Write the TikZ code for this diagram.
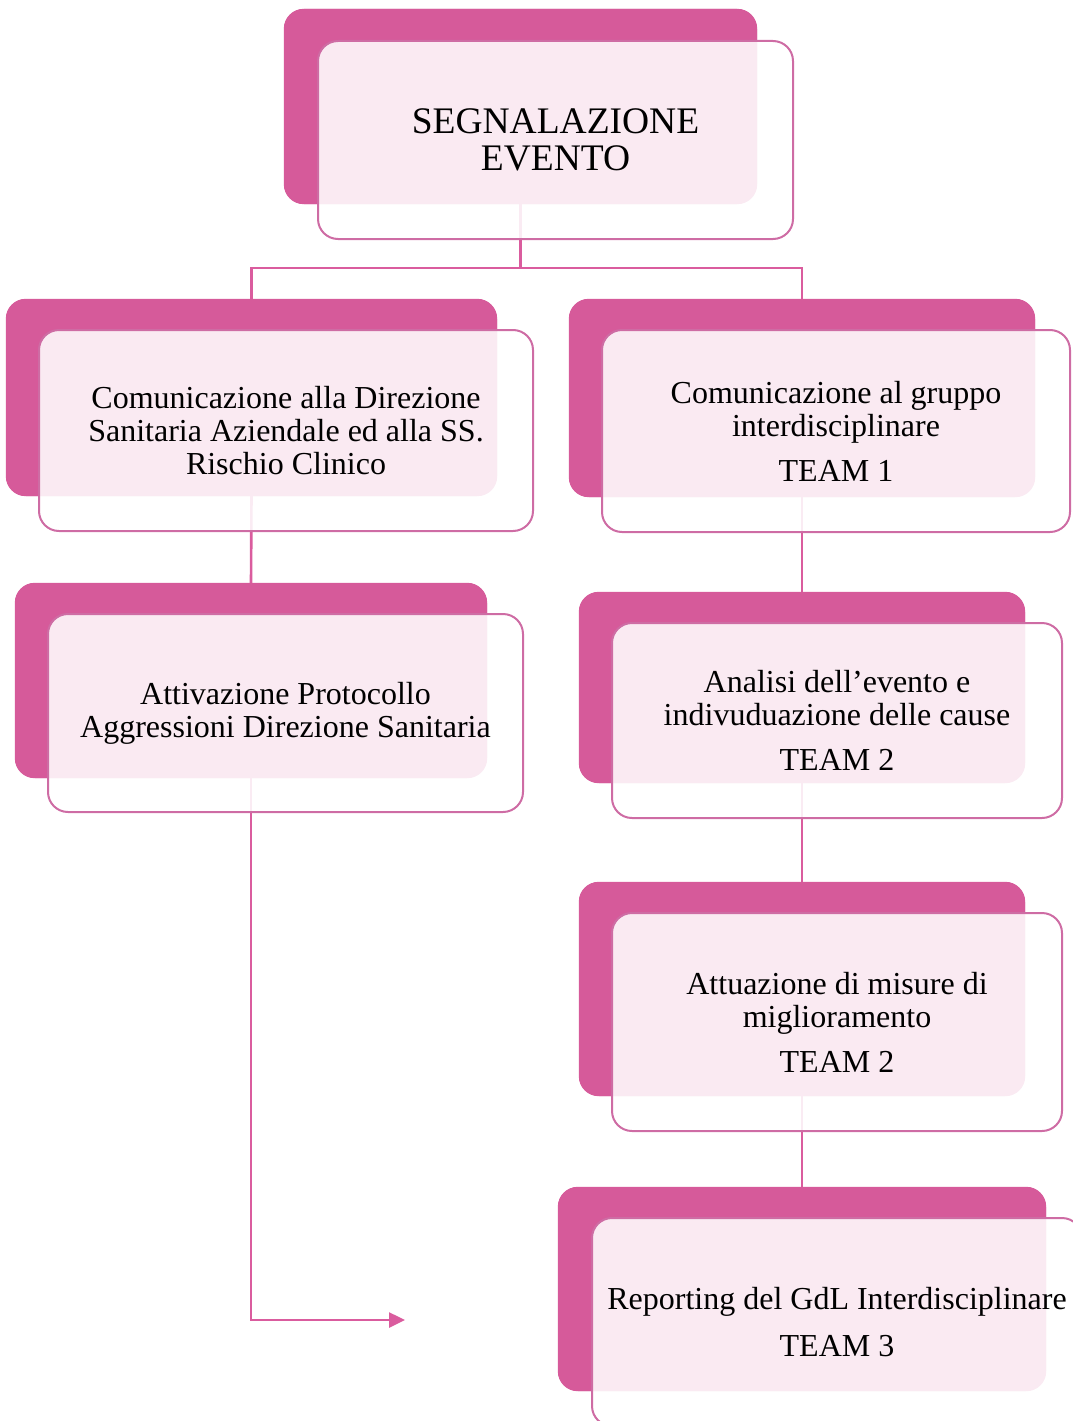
\documentclass[tikz,border=0pt]{standalone}
\usepackage{fontspec}
\setmainfont{Liberation Serif}
\usetikzlibrary{arrows.meta}
\definecolor{darkpk}{RGB}{214,90,154}
\definecolor{borderpk}{RGB}{206,108,164}
\definecolor{linepk}{RGB}{218,92,158}
\begin{document}
\begin{tikzpicture}[x=1pt,y=-1pt,
  back/.style={draw=none,fill=darkpk,rounded corners=20pt,inner sep=0pt},
  front/.style={draw=borderpk,line width=2pt,fill=white,fill opacity=0.88,text opacity=1,
    rounded corners=20pt,inner sep=0pt,align=center,font=\fontsize{32}{33}\selectfont},
  conn/.style={draw=linepk,line width=2.6pt}]
\useasboundingbox (0,0) rectangle (1072,1421);
% junction coordinates
\coordinate (j) at (520.5,268);
\coordinate (end) at (405,1320);
% back boxes
\node[back,minimum width=473pt,minimum height=195pt] (b0) at (520.5,106.5) {};
\node[back,minimum width=491pt,minimum height=197pt] (bl1) at (251.5,397.5) {};
\node[back,minimum width=466pt,minimum height=198pt] (br1) at (802,398) {};
\node[back,minimum width=472pt,minimum height=195pt] (bl2) at (251,680.5) {};
\node[back,minimum width=446pt,minimum height=191pt] (br2) at (802,687.5) {};
\node[back,minimum width=446pt,minimum height=214pt] (br3) at (802,989) {};
\node[back,minimum width=488pt,minimum height=204pt] (br4) at (802,1289) {};
% connectors
\draw[conn] (b0.south) -- (j) -| (bl1.north);
\draw[conn] (j) -| (br1.north);
\draw[conn] (bl1.south) -- (bl2.north);
\draw[conn,-{Triangle[length=16pt,width=15pt]}] (bl2.south) |- (end);
\draw[conn] (br1.south) -- (br2.north);
\draw[conn] (br2.south) -- (br3.north);
\draw[conn] (br3.south) -- (br4.north);
% redraw back boxes over connectors
\foreach \n in {b0,bl1,br1,bl2,br2,br3,br4}{
  \fill[darkpk,rounded corners=20pt] (\n.north west) rectangle (\n.south east);
}
% front boxes
\node[front,minimum width=475pt,minimum height=198pt,font=\fontsize{37.5}{37}\selectfont] (f0) at (555.5,140)
  {SEGNALAZIONE\\EVENTO};
\node[front,minimum width=494pt,minimum height=201pt] (fl1) at (286,430.5)
  {Comunicazione alla Direzione\\Sanitaria Aziendale ed alla SS.\\Rischio Clinico};
\node[front,minimum width=468pt,minimum height=202pt] (fr1) at (836,431)
  {Comunicazione al gruppo\\interdisciplinare\\[12pt]TEAM 1};
\node[front,minimum width=475pt,minimum height=198pt] (fl2) at (285.5,713)
  {Attivazione Protocollo\\Aggressioni Direzione Sanitaria};
\node[front,minimum width=450pt,minimum height=195pt] (fr2) at (837,720.5)
  {Analisi dell’evento e\\indivuduazione delle cause\\[12pt]TEAM 2};
\node[front,minimum width=450pt,minimum height=218pt] (fr3) at (837,1022)
  {Attuazione di misure di\\miglioramento\\[12pt]TEAM 2};
\node[front,minimum width=490pt,minimum height=208pt] (fr4) at (837,1322)
  {Reporting del GdL Interdisciplinare\\[14pt]TEAM 3};
\end{tikzpicture}
\end{document}
